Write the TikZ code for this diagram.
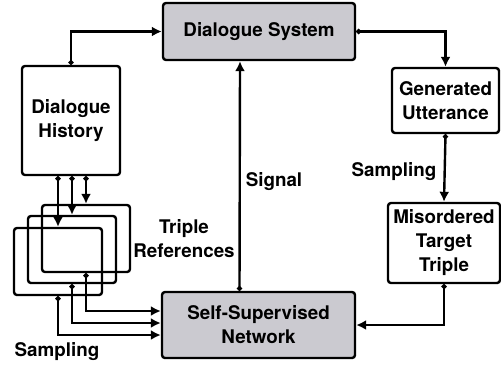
\documentclass[tikz,border=0pt]{standalone}
\usepackage{fontspec}
\setmainfont{TeX Gyre Heros}
\usetikzlibrary{arrows.meta}
\definecolor{boxgray}{RGB}{203,202,208}

\begin{document}
\begin{tikzpicture}
	[x=0.5pt, y=-0.5pt,
	box/.style={draw, line width=1.2pt, rounded corners=1.5pt, fill=white, inner sep=0pt, align=center},
	mainbox/.style={box, fill=boxgray},
	refbox/.style={box, fill=none, minimum width=44pt, minimum height=33.5pt},
	conn/.style={line width=1.2pt, {Circle[length=2.4pt]}-{Latex[length=5pt,width=5pt]}}]
	\tikzstyle{every node}=[font=\fontsize{9.4}{12}\selectfont\bfseries]
	\useasboundingbox (0,0) rectangle (501,365);

	% main blocks
	\node[mainbox, minimum width=96pt, minimum height=28.5pt] (DS) at (259,31.5) {Dialogue System};
	\node[mainbox, minimum width=96.5pt, minimum height=33pt] (SSN) at (258.5,325) {Self-Supervised\\Network};
	\node[box, minimum width=49pt, minimum height=54.5pt] (DH) at (71,120.5) {Dialogue\\History};
	\node[box, minimum width=53.5pt, minimum height=32.5pt] (GU) at (445.5,100.5) {Generated\\Utterance};
	\node[box, minimum width=56pt, minimum height=40pt] (MTT) at (444,243) {Misordered\\Target\\Triple};

	% triple references
	\node[refbox] (back) at (86,238.5) {};
	\node[refbox] (mid) at (72,249.5) {};
	\node[refbox] (front) at (58,261.5) {};

	% labels
	\node (sig) at (274,182) {Signal};
	\node[align=center] (trip) at (184,239) {Triple\\References};
	\node (sampL) at (57,352) {Sampling};
	\node (sampR) at (394,172) {Sampling};

	% connectors
	\draw[conn] (DH.north) |- (DS.west);
	\draw[conn] (DS.east) -| (GU.north);
	\draw[conn] (GU.south) -- (MTT.north);
	\draw[conn] (MTT.south) |- (SSN.east);
	\draw[conn] ([xshift=-9.5pt]SSN.north) -- ([xshift=-9.5pt]DS.south);
	\draw[conn] (DH.south -| back.north) -- (back.north);
	\draw[conn] (DH.south -| mid.north) -- (mid.north);
	\draw[conn] (DH.south -| front.north) -- (front.north);
	\draw[conn] (back.south) |- ([yshift=7pt]SSN.west);
	\draw[conn] (mid.south) |- ([yshift=1pt]SSN.west);
	\draw[conn] (front.south) |- ([yshift=-5pt]SSN.west);
\end{tikzpicture}
\end{document}
